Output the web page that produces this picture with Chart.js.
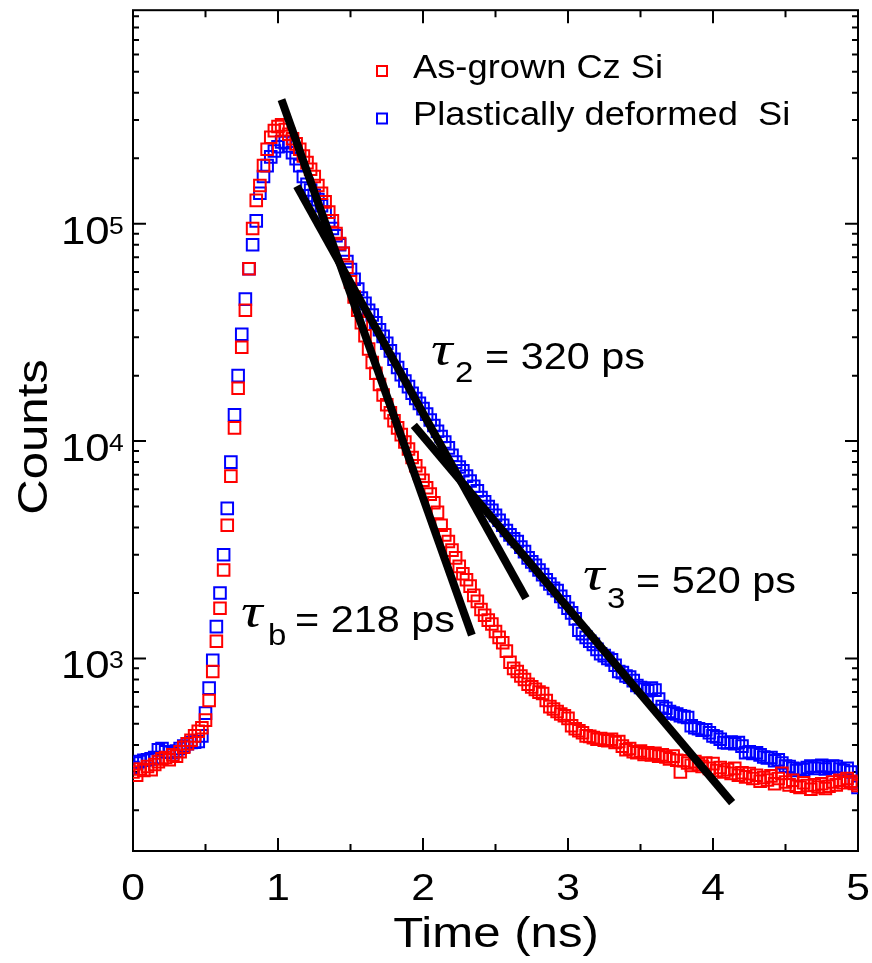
<!DOCTYPE html>
<html><head><meta charset="utf-8">
<script src="https://cdn.jsdelivr.net/npm/chart.js@4.4.1/dist/chart.umd.min.js"></script>
<style>html,body{margin:0;padding:0;background:#fff;overflow:hidden}canvas{display:block}</style>
</head><body>
<canvas id="c" width="872" height="963"></canvas>
<script>
// Time channels (ns)
const times = [
0,0.025,0.05,0.075,0.1,0.125,0.15,0.175,
0.2,0.225,0.25,0.275,0.3,0.325,0.35,0.375,
0.4,0.425,0.45,0.475,0.5,0.525,0.55,0.575,
0.6,0.625,0.65,0.675,0.7,0.725,0.75,0.775,
0.8,0.825,0.85,0.875,0.9,0.925,0.95,0.975,
1.0,1.025,1.05,1.075,1.1,1.125,1.15,1.175,
1.2,1.225,1.25,1.275,1.3,1.325,1.35,1.375,
1.4,1.425,1.45,1.475,1.5,1.525,1.55,1.575,
1.6,1.625,1.65,1.675,1.7,1.725,1.75,1.775,
1.8,1.825,1.85,1.875,1.9,1.925,1.95,1.975,
2.0,2.025,2.05,2.075,2.1,2.125,2.15,2.175,
2.2,2.225,2.25,2.275,2.3,2.325,2.35,2.375,
2.4,2.425,2.45,2.475,2.5,2.525,2.55,2.575,
2.6,2.625,2.65,2.675,2.7,2.725,2.75,2.775,
2.8,2.825,2.85,2.875,2.9,2.925,2.95,2.975,
3.0,3.025,3.05,3.075,3.1,3.125,3.15,3.175,
3.2,3.225,3.25,3.275,3.3,3.325,3.35,3.375,
3.4,3.425,3.45,3.475,3.5,3.525,3.55,3.575,
3.6,3.625,3.65,3.675,3.7,3.725,3.75,3.775,
3.8,3.825,3.85,3.875,3.9,3.925,3.95,3.975,
4.0,4.025,4.05,4.075,4.1,4.125,4.15,4.175,
4.2,4.225,4.25,4.275,4.3,4.325,4.35,4.375,
4.4,4.425,4.45,4.475,4.5,4.525,4.55,4.575,
4.6,4.625,4.65,4.675,4.7,4.725,4.75,4.775,
4.8,4.825,4.85,4.875,4.9,4.925,4.95,4.975,
5.0];

// As-grown Cz Si (red)
const asGrownCzSi = [
300,290,310,305,318,308,325,335,
345,350,342,360,355,372,390,405,
420,440,462,480,520,640,870,1200,
1700,2550,4100,6900,11500,17500,27000,40000,
62000,95000,128000,150000,185000,220000,250000,268000,
280000,285000,271000,258000,246000,233000,220000,205000,
191000,178000,165000,150000,138000,126000,113000,103000,
90000,81000,73000,63000,54000,46000,40000,35000,
30500,26500,23000,20500,18200,16300,14700,13500,
12400,11500,10700,9900,9200,8400,7700,7100,
6600,6100,5700,5200,4700,4100,3700,3450,
3150,2900,2650,2450,2300,2150,1950,1830,
1680,1580,1500,1440,1330,1250,1180,1080,
960,900,870,830,800,760,740,720,
700,690,640,600,585,570,555,545,
530,490,475,465,455,440,438,432,
425,428,420,418,425,410,415,395,
380,385,372,368,375,362,368,360,
366,355,360,352,345,355,340,300,
338,330,322,335,325,318,330,312,
328,305,315,300,308,296,312,290,
298,285,295,280,290,272,283,276,
288,265,280,296,270,262,275,258,
255,268,260,250,262,256,265,252,
258,270,262,275,268,280,272,266,
260];

// Plastically deformed Si (blue)
const deformedSi = [
315,330,335,340,342,345,350,380,
385,372,370,368,375,385,395,405,
410,412,415,440,560,730,980,1400,
2000,3000,4900,8000,13200,20000,31000,45000,
62000,80000,103000,138000,165000,185000,203000,216000,
226000,238000,236000,228000,212000,199000,185000,165000,
152000,143000,135000,129000,121000,113000,103000,95000,
88000,80000,73000,67000,61500,55500,50000,45500,
43000,40000,38000,35000,32500,30300,28200,26000,
23800,21800,20200,18900,17800,16600,15700,14900,
14100,13300,12500,11800,11100,10500,9900,9300,
8600,8000,7600,7300,6900,6550,6200,5900,
5500,5250,5000,4800,4550,4320,4100,3880,
3700,3550,3450,3250,3100,2900,2780,2680,
2550,2430,2300,2200,2100,2050,1930,1820,
1700,1620,1520,1350,1300,1250,1200,1160,
1100,1050,1030,1000,985,930,870,860,
830,820,790,750,735,720,710,730,
715,650,600,590,570,560,555,545,
540,535,490,480,475,468,470,455,
440,435,425,410,408,412,405,410,
395,368,372,365,368,360,352,348,
350,338,342,330,320,318,312,305,
310,308,315,320,312,318,322,310,
316,320,318,310,305,312,300,270,
255];

// Exponential fit lines (end points)
const tauBTimes = [1.024, 2.337];
const tauBCounts = [372500, 1279];
const tau2Times = [1.130, 2.710];
const tau2Counts = [148900, 1892];
const tau3Times = [1.937, 4.132];
const tau3Counts = [11800, 217];

// Axis ticks
const xTicks = [0, 1, 2, 3, 4, 5];
const xMinorTicks = [0.5, 1.5, 2.5, 3.5, 4.5];
const yTicks = [1e3, 1e4, 1e5];
const yTickExponents = ['3', '4', '5'];
const yMin = 130, yMax = 960000;

const seriesLabels = ['As-grown Cz Si', 'Plastically deformed  Si'];
const seriesColors = ['#ff0000', '#0000ff'];

function pts(xs, ys) { return xs.map((t, i) => ({ x: t, y: ys[i] })); }

function txt(ctx, s, x, y, font, sx, align) {
  ctx.save();
  ctx.font = font;
  ctx.fillStyle = '#000';
  ctx.textBaseline = 'alphabetic';
  ctx.textAlign = align || 'left';
  ctx.translate(x, y);
  ctx.scale(sx, 1);
  ctx.fillText(s, 0, 0);
  ctx.restore();
}

const SANS = '"Liberation Sans", Arial, sans-serif';
const SERIF = '"Liberation Serif", "Times New Roman", serif';

const framePlugin = {
  id: 'frame',
  beforeDatasetsDraw(chart) {
    const { ctx, chartArea: a, scales: { x, y } } = chart;
    ctx.save();
    ctx.strokeStyle = '#000';
    ctx.lineWidth = 2;
    ctx.strokeRect(a.left, a.top, a.right - a.left, a.bottom - a.top);
    ctx.beginPath();
    const tick = (px, len) => {
      ctx.moveTo(px, a.bottom); ctx.lineTo(px, a.bottom - len);
      ctx.moveTo(px, a.top); ctx.lineTo(px, a.top + len);
    };
    xTicks.forEach(v => tick(x.getPixelForValue(v), 13));
    xMinorTicks.forEach(v => tick(x.getPixelForValue(v), 7));
    for (let d = 2; d <= 5; d++) {
      for (let k = 1; k <= 9; k++) {
        const v = k * Math.pow(10, d);
        if (v < yMin || v > yMax) continue;
        const py = y.getPixelForValue(v);
        const len = k === 1 ? 13 : 6;
        ctx.moveTo(a.left, py); ctx.lineTo(a.left + len, py);
        ctx.moveTo(a.right, py); ctx.lineTo(a.right - len, py);
      }
    }
    ctx.stroke();
    ctx.restore();
  },
  afterDraw(chart) {
    const { ctx, scales: { x, y } } = chart;
    xTicks.forEach(v => txt(ctx, String(v), x.getPixelForValue(v), 900, '37px ' + SANS, 1.15, 'center'));
    yTicks.forEach((v, i) => {
      const py = y.getPixelForValue(v);
      txt(ctx, '10', 109.5, py + 20, '38px ' + SANS, 1.15, 'right');
      txt(ctx, yTickExponents[i], 109, py + 10, '23px ' + SANS, 1.15, 'left');
    });
    txt(ctx, 'Time (ns)', 496, 947, '42px ' + SANS, 1.17, 'center');
    ctx.save();
    ctx.translate(47, 437);
    ctx.rotate(-Math.PI / 2);
    txt(ctx, 'Counts', 0, 0, '42px ' + SANS, 1.17, 'center');
    ctx.restore();
    const ly = [71, 118.5], ty = [78, 125];
    for (let i = 0; i < 2; i++) {
      ctx.save();
      ctx.strokeStyle = seriesColors[i];
      ctx.lineWidth = 2;
      ctx.strokeRect(377, ly[i] - 5, 10, 10);
      ctx.restore();
      txt(ctx, seriesLabels[i], 413, ty[i], '33px ' + SANS, 1.1, 'left');
    }
    const ann = [
      { tx: 431, ty: 365, sub: '2', sx: 455, sy: 382, rest: '= 320 ps', rx: 485, ry: 369 },
      { tx: 583, ty: 590, sub: '3', sx: 607, sy: 608, rest: '= 520 ps', rx: 636, ry: 593 },
      { tx: 241, ty: 627, sub: 'b', sx: 268, sy: 645, rest: '= 218 ps', rx: 295, ry: 632 }
    ];
    ann.forEach(a => {
      txt(ctx, '\u03C4', a.tx, a.ty, 'italic 48px ' + SERIF, 1.25, 'left');
      txt(ctx, a.sub, a.sx, a.sy, '30px ' + SANS, 1.1, 'left');
      txt(ctx, a.rest, a.rx, a.ry, '36px ' + SANS, 1.15, 'left');
    });
  }
};

const fitStyle = { showLine: true, borderColor: '#000', borderWidth: 8, pointRadius: 0, borderCapStyle: 'butt', order: 0 };

new Chart(document.getElementById('c'), {
  type: 'scatter',
  data: {
    datasets: [
      Object.assign({ label: 'tau_b', data: pts(tauBTimes, tauBCounts) }, fitStyle),
      Object.assign({ label: 'tau_2', data: pts(tau2Times, tau2Counts) }, fitStyle),
      Object.assign({ label: 'tau_3', data: pts(tau3Times, tau3Counts) }, fitStyle),
      {
        label: seriesLabels[0], data: pts(times, asGrownCzSi), order: 1,
        pointStyle: 'rect', pointRadius: 8.2, pointBorderWidth: 2,
        pointBorderColor: seriesColors[0], borderColor: seriesColors[0],
        pointBackgroundColor: 'rgba(0,0,0,0)', showLine: false
      },
      {
        label: seriesLabels[1], data: pts(times, deformedSi), order: 2,
        pointStyle: 'rect', pointRadius: 8.2, pointBorderWidth: 2,
        pointBorderColor: seriesColors[1], borderColor: seriesColors[1],
        pointBackgroundColor: 'rgba(0,0,0,0)', showLine: false
      }
    ]
  },
  options: {
    responsive: false,
    devicePixelRatio: 1,
    animation: false,
    layout: { padding: { left: 133, right: 14, top: 9, bottom: 112 } },
    plugins: { legend: { display: false }, tooltip: { enabled: false } },
    scales: {
      x: { type: 'linear', min: 0, max: 5, display: false },
      y: { type: 'logarithmic', min: yMin, max: yMax, display: false }
    }
  },
  plugins: [framePlugin]
});
</script>
</body></html>
